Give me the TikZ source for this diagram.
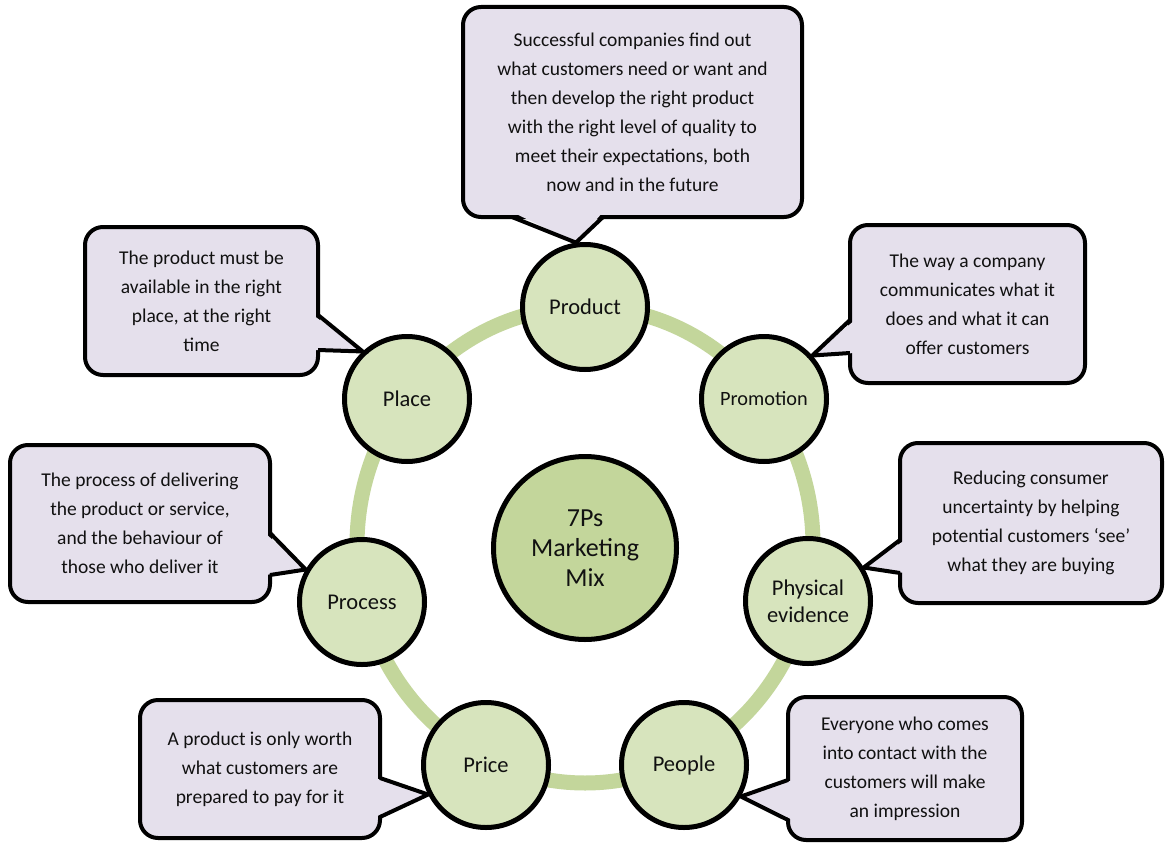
\documentclass[tikz,border=0pt]{standalone}
\usepackage{fontspec}
\setmainfont{Carlito}
\usetikzlibrary{calc}
\definecolor{boxfill}{HTML}{E5E0EC}
\definecolor{pfill}{HTML}{D7E4BD}
\definecolor{cfill}{HTML}{C3D69B}
\definecolor{ringc}{HTML}{C3D69B}
\definecolor{txt}{HTML}{111111}
\begin{document}
\begin{tikzpicture}[x=1pt,y=-1pt,
  pcircle/.style={circle, draw=black, line width=5pt, fill=pfill, minimum size=125pt, inner sep=0pt, align=center, text=txt, font=\fontsize{22.5}{27}\selectfont},
  hub/.style={circle, draw=black, line width=5pt, fill=cfill, minimum size=183pt, inner sep=0pt, align=center, text=txt, font=\fontsize{26}{30}\selectfont},
  callbox/.style={draw=black, line width=4pt, fill=boxfill, rounded corners=18pt, inner sep=0pt, align=center, text=txt, font=\fontsize{19.5}{29}\selectfont},
  ptrfill/.style={fill=boxfill},
  ptrline/.style={draw=black, line width=4pt, line join=miter},
]
\useasboundingbox (0,0) rectangle (1167,843);
\fill[white] (0,0) rectangle (1167,843);
% ring
\draw[ringc, line width=15pt] (585,545) ellipse [x radius=228pt, y radius=238pt];
% circles
\node[hub] (hub) at (585,548) {7Ps\\Marketing\\Mix};
\node[pcircle] (product) at (585,307) {Product};
\node[pcircle, font=\fontsize{20.3}{24}\selectfont] (promotion) at (764,399) {Promotion};
\node[pcircle] (place) at (407,399) {Place};
\node[pcircle] (physical) at (808,601) {Physical\\evidence};
\node[pcircle] (process) at (362,602) {Process};
\node[pcircle] (people) at (684,765) {People};
\node[pcircle] (price) at (486,765) {Price};
% callout boxes
\node[callbox, minimum width=339pt, minimum height=210pt] (bproduct) at (632.5,112)
  {Successful companies find out\\what customers need or want and\\then develop the right product\\with the right level of quality to\\meet their expectations, both\\now and in the future};
\node[callbox, minimum width=233pt, minimum height=148pt] (bplace) at (201.5,301)
  {The product must be\\available in the right\\place, at the right\\time};
\node[callbox, minimum width=235pt, minimum height=158pt] (bpromotion) at (967.5,304)
  {The way a company\\communicates what it\\does and what it can\\offer customers};
\node[callbox, minimum width=260pt, minimum height=157pt] (bprocess) at (140,523.5)
  {The process of delivering\\the product or service,\\and the behaviour of\\those who deliver it};
\node[callbox, minimum width=262pt, minimum height=160pt] (bphysical) at (1031,523)
  {Reducing consumer\\uncertainty by helping\\potential customers ‘see’\\what they are buying};
\node[callbox, minimum width=240pt, minimum height=138pt] (bprice) at (260,769)
  {A product is only worth\\what customers are\\prepared to pay for it};
\node[callbox, minimum width=234pt, minimum height=143pt] (bpeople) at (905,768.5)
  {Everyone who comes\\into contact with the\\customers will make\\an impression};
% pointer base points
\coordinate (a1) at (512,217); \coordinate (b1) at (603,217);
\coordinate (a2) at (318,315); \coordinate (b2) at (318,350);
\coordinate (a3) at (850,320); \coordinate (b3) at (850,353);
\coordinate (a4) at (270,533); \coordinate (b4) at (270,575);
\coordinate (a5) at (900,540); \coordinate (b5) at (900,573);
\coordinate (a6) at (380,778); \coordinate (b6) at (380,817);
\coordinate (a7) at (788,780); \coordinate (b7) at (788,820);
% pointers
\fill[ptrfill] ($(a1)+(0,-5)$) -- (product.98) -- ($(b1)+(0,-5)$) -- cycle;
\draw[ptrline] (a1) -- (product.98) -- (b1);
\fill[ptrfill] ($(a2)+(-5,0)$) -- (place.133) -- ($(b2)+(-5,0)$) -- cycle;
\draw[ptrline] (a2) -- (place.133) -- (b2);
\fill[ptrfill] ($(a3)+(5,0)$) -- (promotion.42) -- ($(b3)+(5,0)$) -- cycle;
\draw[ptrline] (a3) -- (promotion.42) -- (b3);
\fill[ptrfill] ($(a4)+(-5,0)$) -- (process.150) -- ($(b4)+(-5,0)$) -- cycle;
\draw[ptrline] (a4) -- (process.150) -- (b4);
\fill[ptrfill] ($(a5)+(5,0)$) -- (physical.31) -- ($(b5)+(5,0)$) -- cycle;
\draw[ptrline] (a5) -- (physical.31) -- (b5);
\fill[ptrfill] ($(a6)+(-5,0)$) -- (price.207) -- ($(b6)+(-5,0)$) -- cycle;
\draw[ptrline] (a6) -- (price.207) -- (b6);
\fill[ptrfill] ($(a7)+(5,0)$) -- (people.331) -- ($(b7)+(5,0)$) -- cycle;
\draw[ptrline] (a7) -- (people.331) -- (b7);
\end{tikzpicture}
\end{document}
